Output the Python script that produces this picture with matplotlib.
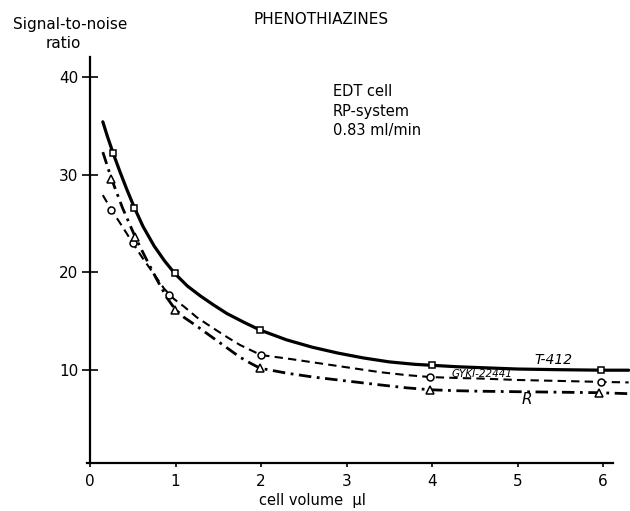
import matplotlib
matplotlib.use("Agg")
import matplotlib.pyplot as plt

# ---- data ----
# measured points (markers)
t412_x = [0.27, 0.52, 0.99, 1.99, 4.0, 5.98]
t412_y = [32.2, 26.6, 19.9, 14.1, 10.5, 10.0]
gyki_x = [0.25, 0.50, 0.92, 2.0, 3.98, 5.98]
gyki_y = [26.4, 23.0, 17.7, 11.55, 9.3, 8.8]
r_x = [0.25, 0.53, 0.99, 1.99, 3.98, 5.95]
r_y = [29.6, 23.6, 16.2, 10.2, 8.0, 7.7]

# drawn curves
t412_cx = [0.15, 0.2, 0.27, 0.35, 0.43, 0.52, 0.62, 0.75, 0.87, 0.99, 1.14, 1.29, 1.44,
           1.6, 1.8, 1.99, 2.3, 2.6, 2.9, 3.2, 3.5, 3.8, 4.0, 4.3, 4.6, 5.0, 5.5, 6.0, 6.3]
t412_cy = [35.4, 34.0, 32.2, 30.3, 28.5, 26.6, 24.7, 22.7, 21.2, 19.9, 18.6, 17.6, 16.7,
           15.8, 14.9, 14.1, 13.1, 12.35, 11.75, 11.25, 10.85, 10.6, 10.5, 10.35, 10.25,
           10.12, 10.05, 10.0, 10.0]
gyki_cx = [0.15, 0.25, 0.37, 0.5, 0.62, 0.75, 0.87, 0.98, 1.1, 1.25, 1.44, 1.6, 1.75, 1.88,
           2.0, 2.3, 2.61, 3.0, 3.39, 3.7, 3.98, 4.3, 4.56, 5.0, 5.5, 6.0, 6.3]
gyki_cy = [27.9, 26.4, 24.8, 23.0, 21.4, 19.8, 18.3, 17.3, 16.5, 15.4, 14.3, 13.4, 12.6, 12.05,
           11.55, 11.2, 10.8, 10.3, 9.8, 9.5, 9.3, 9.2, 9.15, 9.0, 8.9, 8.8, 8.75]
r_cx = [0.15, 0.25, 0.38, 0.53, 0.65, 0.78, 0.9, 0.99, 1.1, 1.25, 1.44, 1.6, 1.75, 1.88, 1.99,
        2.3, 2.61, 3.0, 3.39, 3.7, 3.98, 4.3, 4.56, 5.0, 5.5, 5.95, 6.3]
r_cy = [32.3, 29.6, 26.6, 23.6, 21.5, 19.3, 17.4, 16.3, 15.4, 14.5, 13.3, 12.3, 11.35, 10.7, 10.2,
        9.7, 9.3, 8.9, 8.5, 8.2, 8.0, 7.9, 7.85, 7.8, 7.75, 7.7, 7.6]

x_ticks = [0, 1, 2, 3, 4, 5, 6]
y_ticks = [10, 20, 30, 40]

W, H = 630, 511
fig = plt.figure(figsize=(W / 100, H / 100), dpi=100)
plt.rcParams['font.family'] = ['DejaVu Sans']

def fx(x):
    return x / W

def fy(y):
    return 1 - y / H

# axes placement: x=0 at px 90, 85.5 px/unit; y: px = 468 - 9.78*y
x0_px = 90
xs = 85.5
ys = 9.78
ylo, yhi = 0.5, 43.8
bottom_px = 468 - ys * ylo
top_px = 468 - ys * yhi
ax = fig.add_axes([fx(x0_px), 1 - bottom_px / H, (W - x0_px) / W, (bottom_px - top_px) / H])
ax.set_xlim(0, (W - x0_px) / xs)
ax.set_ylim(ylo, yhi)

for s in ['top', 'right']:
    ax.spines[s].set_visible(False)
ax.spines['left'].set_bounds(ylo, 42.0)
ax.spines['bottom'].set_bounds(-0.03, 6.12)
ax.spines['left'].set_linewidth(1.6)
ax.spines['bottom'].set_linewidth(1.6)

ax.set_xticks(x_ticks)
ax.set_yticks(y_ticks)
ax.tick_params(axis='x', direction='out', length=3, width=1.2, pad=5, labelsize=11)
ax.tick_params(axis='y', direction='inout', length=11, width=1.2, pad=3, labelsize=11)

# curves
ax.plot(t412_cx, t412_cy, color='black', lw=2.3, solid_capstyle='round', solid_joinstyle='round')
ax.plot(gyki_cx, gyki_cy, color='black', lw=1.5, dashes=(4, 2.5))
ax.plot(r_cx, r_cy, color='black', lw=2.0, dashes=(4.5, 2, 1, 2))

# markers
ax.plot(t412_x, t412_y, ls='none', marker='s', ms=5, mfc='white', mec='black', mew=1.1)
ax.plot(gyki_x, gyki_y, ls='none', marker='o', ms=5, mfc='white', mec='black', mew=1.1)
ax.plot(r_x, r_y, ls='none', marker='^', ms=5.5, mfc='white', mec='black', mew=1.1)

# texts
fig.text(fx(70), fy(24), 'Signal-to-noise', ha='center', va='center', fontsize=11)
fig.text(fx(63), fy(43), 'ratio', ha='center', va='center', fontsize=11)
fig.text(fx(321), fy(19), 'PHENOTHIAZINES', ha='center', va='center', fontsize=11)
fig.text(fx(333), fy(92), 'EDT cell', ha='left', va='center', fontsize=10.5)
fig.text(fx(333), fy(111), 'RP-system', ha='left', va='center', fontsize=10.5)
fig.text(fx(333), fy(130), '0.83 ml/min', ha='left', va='center', fontsize=10.5)
fig.text(fx(553), fy(360), 'T-412', ha='center', va='center', fontsize=10, style='italic')
fig.text(fx(482), fy(374), 'GYKI-22441', ha='center', va='center', fontsize=7.5, style='italic')
fig.text(fx(527), fy(400), 'R', ha='center', va='center', fontsize=11, style='italic')
fig.text(fx(312), fy(500), 'cell volume  µl', ha='center', va='center', fontsize=10.5)

fig.savefig('out.png', dpi=100)
